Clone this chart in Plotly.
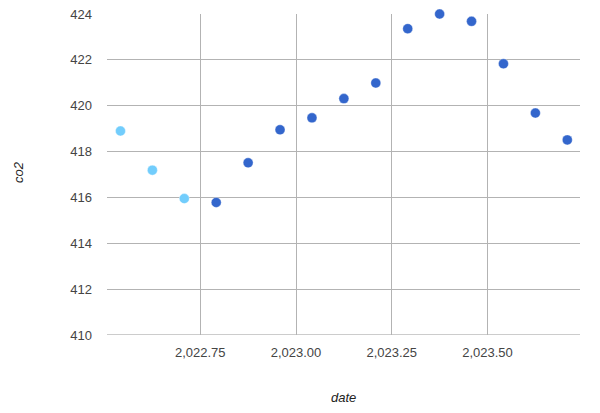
import plotly.graph_objects as go

dates = [2022 + (m - 0.5) / 12 for m in range(7, 13)] + [2023 + (m - 0.5) / 12 for m in range(1, 10)]
co2 = [418.90, 417.19, 415.95, 415.78, 417.51, 418.95, 419.47, 420.31, 420.99,
       423.36, 424.00, 423.68, 421.83, 419.68, 418.51]
colors = ["#72cdfc"] * 3 + ["#3366cc"] * 12
x_ticks = [2022.75, 2023.00, 2023.25, 2023.50]
x_tick_text = ["2,022.75", "2,023.00", "2,023.25", "2,023.50"]
y_ticks = [410, 412, 414, 416, 418, 420, 422, 424]

L, R, T, B = 107, 20, 14, 78
W, H = 600, 413
pw, ph = W - L - R, H - T - B

fig = go.Figure()
fig.add_trace(go.Scatter(
    x=dates, y=co2, mode="markers",
    marker=dict(size=10, color=colors, line=dict(width=0.6, color="rgba(255,255,255,0.6)")),
    showlegend=False, hoverinfo="x+y", cliponaxis=False,
))

font = dict(family="Liberation Sans, Arial, sans-serif", size=13, color="#444444")
fig.update_layout(
    width=W, height=H,
    margin=dict(l=L, r=R, t=T, b=B, pad=0, autoexpand=False),
    paper_bgcolor="white", plot_bgcolor="white",
    font=font,
    xaxis=dict(range=[2022.5065, 2023.7415], tickvals=x_ticks, ticktext=x_tick_text,
               showgrid=True, gridcolor="#b3b3b3", gridwidth=1, zeroline=False,
               showline=False, ticks="", ticklabelstandoff=8, automargin=False),
    yaxis=dict(range=[410, 424], tickvals=y_ticks, showgrid=True, gridcolor="#b3b3b3",
               gridwidth=1, zeroline=False, showline=False, ticks="", ticklabelstandoff=14,
               automargin=False),
    annotations=[
        dict(text="<i>date</i>", xref="paper", yref="paper",
             x=(343 - L) / pw, y=(T + ph - 398) / ph, showarrow=False,
             xanchor="center", yanchor="middle", font=dict(size=13, color="#222222")),
        dict(text="<i>co2</i>", xref="paper", yref="paper",
             x=(18 - L) / pw, y=(T + ph - 172) / ph, showarrow=False, textangle=-90,
             xanchor="center", yanchor="middle", font=dict(size=13, color="#222222")),
    ],
)
fig.add_shape(type="line", xref="paper", yref="y", x0=0, x1=1, y0=410, y1=410,
              line=dict(color="#999999", width=1), layer="below")

fig.write_html("out.html", config={"displayModeBar": False},
               post_script="document.body.style.margin='0';document.body.style.overflow='hidden';")
